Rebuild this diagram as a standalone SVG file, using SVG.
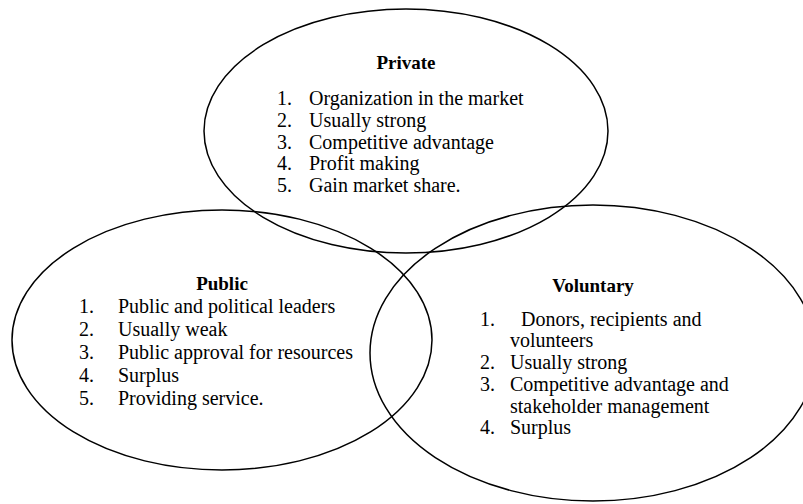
<svg xmlns="http://www.w3.org/2000/svg" width="803" height="504" viewBox="0 0 803 504">
  <style>
    .ring { fill: none; stroke: #000; stroke-width: 1.5; }
    .head { font-family: "Liberation Serif", "Times New Roman", serif; font-size: 19px; font-weight: bold; fill: #000; text-anchor: middle; }
    .item { font-family: "Liberation Serif", "Times New Roman", serif; font-size: 20px; fill: #000; }
  </style>
  <rect width="803" height="504" fill="#fff"/>

  <!-- Sector: Private -->
  <g id="private">
    <ellipse class="ring" cx="406" cy="131" rx="202" ry="122"/>
    <text class="head" x="406" y="69">Private</text>
    <text class="item" x="277" y="105">1.</text><text class="item" x="309" y="105">Organization in the market</text>
    <text class="item" x="277" y="127">2.</text><text class="item" x="309" y="127">Usually strong</text>
    <text class="item" x="277" y="149">3.</text><text class="item" x="309" y="149">Competitive advantage</text>
    <text class="item" x="277" y="170">4.</text><text class="item" x="309" y="170">Profit making</text>
    <text class="item" x="277" y="192">5.</text><text class="item" x="309" y="192">Gain market share.</text>
  </g>

  <!-- Sector: Public -->
  <g id="public">
    <ellipse class="ring" cx="222" cy="340" rx="210" ry="130"/>
    <text class="head" x="222" y="290">Public</text>
    <text class="item" x="79" y="313">1.</text><text class="item" x="118" y="313">Public and political leaders</text>
    <text class="item" x="79" y="336">2.</text><text class="item" x="118" y="336">Usually weak</text>
    <text class="item" x="79" y="359">3.</text><text class="item" x="118" y="359">Public approval for resources</text>
    <text class="item" x="79" y="382">4.</text><text class="item" x="118" y="382">Surplus</text>
    <text class="item" x="79" y="405">5.</text><text class="item" x="118" y="405">Providing service.</text>
  </g>

  <!-- Sector: Voluntary -->
  <g id="voluntary">
    <ellipse class="ring" cx="593" cy="353" rx="223" ry="148"/>
    <text class="head" x="593" y="292">Voluntary</text>
    <text class="item" x="480" y="326">1.</text><text class="item" x="521" y="326">Donors, recipients and</text>
    <text class="item" x="510" y="347">volunteers</text>
    <text class="item" x="480" y="369">2.</text><text class="item" x="510" y="369">Usually strong</text>
    <text class="item" x="480" y="391">3.</text><text class="item" x="510" y="391">Competitive advantage and</text>
    <text class="item" x="510" y="413">stakeholder management</text>
    <text class="item" x="480" y="434">4.</text><text class="item" x="510" y="434">Surplus</text>
  </g>
</svg>
